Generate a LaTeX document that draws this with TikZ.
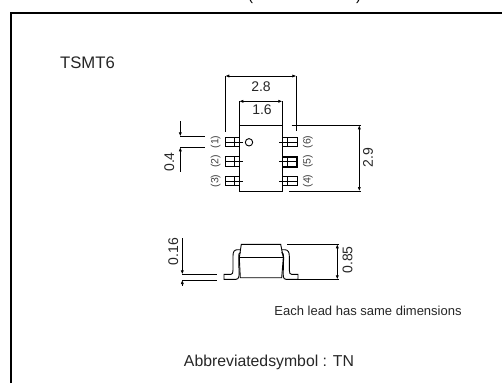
\documentclass[tikz,border=0pt]{standalone}
\usepackage{fontspec}
\setmainfont{Liberation Sans}
\usetikzlibrary{arrows.meta}
\tikzset{
  part/.style={line width=.9pt},
  dimline/.style={line width=.7pt},
  dimarrow/.style={dimline, {Latex[length=4pt,width=3.2pt]}-{Latex[length=4pt,width=3.2pt]}},
  dimend/.style={dimline, -{Latex[length=4pt,width=3.2pt]}},
  dimlabel/.style={font=\fontsize{14}{15}\selectfont, inner sep=0pt, text=black!85},
  pinlabel/.style={font=\fontsize{10.5}{11}\selectfont, inner sep=0pt, rotate=90, text=black!75},
}
\begin{document}
\begin{tikzpicture}[x=1pt,y=-1pt]
\useasboundingbox (0,0) rectangle (502,383);
\node[anchor=base,inner sep=0pt,font=\fontsize{15}{16}\selectfont] (parL) at (250.5,0.3) {(};
\node[anchor=base,inner sep=0pt,font=\fontsize{15}{16}\selectfont] (parR) at (358.5,0.3) {)};
\draw[line width=2.4pt] (11,383) -- (11,12.7) -- (502,12.7);
\draw[part] (239.3,125.3) rectangle (282.3,191);
\draw[part] (249,142.3) circle (3.7);
\foreach \leady/\ctry in {137/142, 156.5/161.5, 176/181} {
  \draw[part] (225.5,\leady) rectangle (239.3,\leady+9.7);
  \draw[part] (234,\leady) -- (234,\leady+9.7);
  \draw[part] (225.5,\ctry) -- (242.7,\ctry);
  \draw[part] (282.3,\leady) rectangle (297,\leady+9.7);
  \draw[part] (287.5,\leady) -- (287.5,\leady+9.7);
  \draw[part] (279.3,\ctry) -- (297,\ctry);
}
\draw[line width=1.3pt] (282.3,157) rectangle (297,167);
\draw[line width=1.3pt] (287.5,157) -- (287.5,167);
\node[pinlabel] (pinA) at (215.7,142) {(1)};
\node[pinlabel] (pinB) at (215.7,161.5) {(2)};
\node[pinlabel] (pinC) at (215.7,181) {(3)};
\node[pinlabel] (pinD) at (308,181) {(4)};
\node[pinlabel] (pinE) at (308,161.5) {(5)};
\node[pinlabel] (pinF) at (308,142) {(6)};
% top view dimensions
\draw[dimline] (225.3,131.7) -- (225.3,76);
\draw[dimline] (296.3,130.7) -- (296.3,76);
\draw[dimarrow] (225.3,76) -- (296.3,76);
\draw[dimline] (239.3,125.3) -- (239.3,101.3);
\draw[dimline] (282.3,125.3) -- (282.3,101.3);
\draw[dimarrow] (239.3,101.3) -- (282.3,101.3);
\draw[dimline] (291.7,125.3) -- (360.5,125.3);
\draw[dimline] (289,191) -- (360.5,191);
\draw[dimarrow] (359.3,125.3) -- (359.3,191);
\draw[dimline] (180.3,136.3) -- (204.7,136.3);
\draw[dimline] (180.3,147.3) -- (204.7,147.3);
\draw[dimend] (180.3,121) -- (180.3,136.3);
\draw[dimend] (180.3,171.7) -- (180.3,147.3);
\node[dimlabel] (dimA) at (261,86.7) {2.8};
\node[dimlabel] (dimB) at (262,110) {1.6};
\node[dimlabel,rotate=90] (dimC) at (368,157.7) {2.9};
\node[dimlabel,rotate=90] (dimD) at (169.3,162) {0.4};
% side view
\draw[part] (239.3,257.7) -- (241.3,244.3) -- (280.7,244.3) -- (283.3,257.7);
\draw[part] (238.7,257.7) -- (284,257.7);
\draw[part] (239.3,257.7) -- (240.3,277.7) -- (281.7,277.7) -- (283.3,257.7);
\draw[part] (240.3,249.7) -- (237.5,249.7) .. controls (234,249.7) and (233,252) .. (233,256)
  -- (233,270) .. controls (233,273) and (232.5,274.3) .. (231,274.3)
  -- (224,274.3) -- (224,279.3) -- (236,279.3) .. controls (239,279.3) and (239.5,276) .. (239,270)
  -- (238.7,258) .. controls (238.7,254) and (239,252.5) .. (240.5,252.5);
\draw[part] (281.7,249.7) -- (284.5,249.7) .. controls (288,249.7) and (289.3,252) .. (289.3,256)
  -- (289.3,270) .. controls (289.3,273) and (290,274.3) .. (291.5,274.3)
  -- (298,274.3) -- (298,279.3) -- (286,279.3) .. controls (283,279.3) and (283,276) .. (283.3,270)
  -- (283.6,258) .. controls (283.6,254) and (283,252.5) .. (281.5,252.5);
% side view dimensions
\draw[dimline] (182.3,274.3) -- (217,274.3);
\draw[dimline] (182.3,280) -- (217,280);
\draw[dimend] (182.3,238.3) -- (182.3,274.3);
\draw[dimend] (182.3,285.7) -- (182.3,280);
\draw[dimline] (287.3,244.3) -- (339,244.3);
\draw[dimline] (298,279.3) -- (339,279.3);
\draw[dimarrow] (337.3,244.3) -- (337.3,279.3);
\node[dimlabel,rotate=90] (dimE) at (173.3,251.7) {0.16};
\node[dimlabel,rotate=90] (dimF) at (347.5,260) {0.85};
% texts
\node[inner sep=0pt,font=\fontsize{16.7}{18}\selectfont,text=black!85] (pkg) at (87.5,62.5) {TSMT6};
\node[inner sep=0pt,font=\fontsize{13}{14}\selectfont,text=black!85] (note) at (368,310.5) {Each lead has same dimensions};
\node[inner sep=0pt,font=\fontsize{15.8}{17}\selectfont,text=black!85] (symb) at (269,362.5) {Abbreviatedsymbol : TN};
\end{tikzpicture}
\end{document}
